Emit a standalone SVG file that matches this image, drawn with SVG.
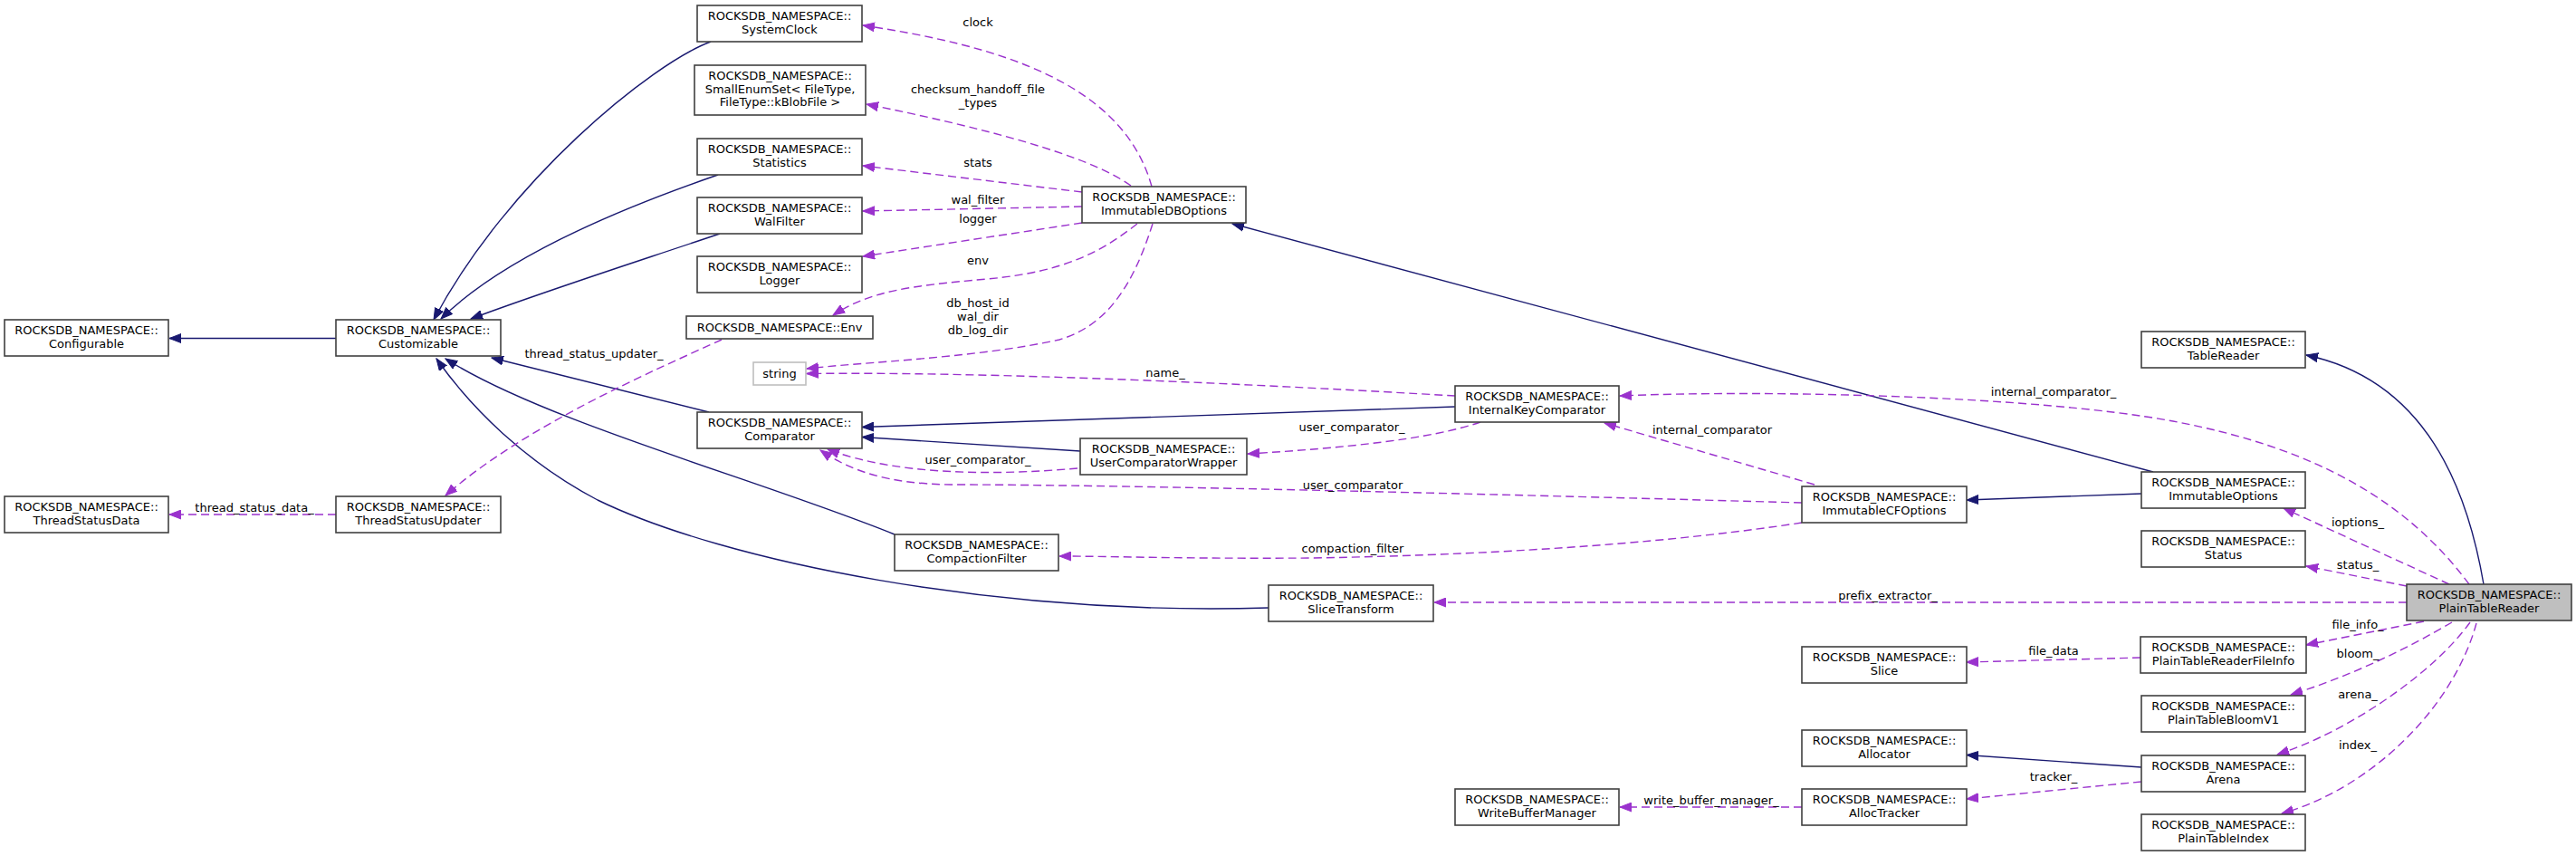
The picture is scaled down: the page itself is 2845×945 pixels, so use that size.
<svg xmlns="http://www.w3.org/2000/svg" width="2845" height="945" viewBox="0 0 2845 945">
<style>
.n rect{fill:#ffffff;stroke:#404040;stroke-width:1.6}
.n text,.lbl text{font-family:"DejaVu Sans","Liberation Sans",sans-serif;font-size:13px;fill:#000;text-anchor:middle}
.inh{fill:none;stroke:#191970;stroke-width:1.4}
.use{fill:none;stroke:#9a32cd;stroke-width:1.4;stroke-dasharray:9,5}
</style>
<defs>
<marker id="ai" markerUnits="userSpaceOnUse" markerWidth="14" markerHeight="11" refX="13" refY="5.5" orient="auto"><path d="M0,0.5 L13,5.5 L0,10.5 z" fill="#191970" stroke="#191970" stroke-width="1"/></marker>
<marker id="au" markerUnits="userSpaceOnUse" markerWidth="14" markerHeight="11" refX="13" refY="5.5" orient="auto"><path d="M0,0.5 L13,5.5 L0,10.5 z" fill="#9a32cd" stroke="#9a32cd" stroke-width="1" stroke-dasharray="none"/></marker>
</defs>
<rect width="2845" height="945" fill="#ffffff"/>
<g id="connectors">
<path class="inh" marker-end="url(#ai)" d="M371,373.5 L187,373.5"/>
<path class="inh" marker-end="url(#ai)" d="M785,46 C720,70 560,200 479,353"/>
<path class="inh" marker-end="url(#ai)" d="M793,193 C700,225 560,280 487,352"/>
<path class="inh" marker-end="url(#ai)" d="M795,258 C700,290 600,322 520,352"/>
<path class="inh" marker-end="url(#ai)" d="M783,455 L543,395"/>
<path class="inh" marker-end="url(#ai)" d="M988,590 C840,530 600,465 492,396"/>
<path class="inh" marker-end="url(#ai)" d="M1401,671 C1100,680 800,620 660,552 C580,510 520,450 482,396"/>
<path class="inh" marker-end="url(#ai)" d="M1607,449 L952,471.5"/>
<path class="inh" marker-end="url(#ai)" d="M1193,498 L952,482.5"/>
<path class="inh" marker-end="url(#ai)" d="M2378,521 L1361,247"/>
<path class="inh" marker-end="url(#ai)" d="M2365,545 L2172,552"/>
<path class="inh" marker-end="url(#ai)" d="M2743,645 C2725,540 2680,420 2547,392"/>
<path class="inh" marker-end="url(#ai)" d="M2365,847 L2172,833.5"/>
<path class="use" marker-end="url(#au)" d="M1272,206 C1240,90 1100,50 953,28"/>
<path class="use" marker-end="url(#au)" d="M1249,205 C1200,170 1080,140 957,115"/>
<path class="use" marker-end="url(#au)" d="M1195,212 L953,183"/>
<path class="use" marker-end="url(#au)" d="M1195,228 L953,233"/>
<path class="use" marker-end="url(#au)" d="M1195,246 L953,283"/>
<path class="use" marker-end="url(#au)" d="M1256,247 C1220,275 1180,300 1090,308 C1000,316 960,322 920,348"/>
<path class="use" marker-end="url(#au)" d="M1273,247 C1250,320 1220,360 1170,375 C1080,395 950,400 891,407"/>
<path class="use" marker-end="url(#au)" d="M1607,437 C1400,425 1100,410 891,412.5"/>
<path class="use" marker-end="url(#au)" d="M797,375 C720,410 580,470 492,547"/>
<path class="use" marker-end="url(#au)" d="M371,568 L187,568"/>
<path class="use" marker-end="url(#au)" d="M1190,517 C1100,525 990,525 914,496"/>
<path class="use" marker-end="url(#au)" d="M1635,466 C1580,485 1480,495 1378,501"/>
<path class="use" marker-end="url(#au)" d="M2004,535 L1772,467"/>
<path class="use" marker-end="url(#au)" d="M1990,555 C1700,547 1250,535 1050,535 C980,534 940,520 906,497"/>
<path class="use" marker-end="url(#au)" d="M1990,577 C1860,597 1680,612 1450,616 C1300,617 1230,614 1170,614"/>
<path class="use" marker-end="url(#au)" d="M2658,665 L1584,665"/>
<path class="use" marker-end="url(#au)" d="M2727,645 C2660,555 2560,495 2400,465 C2250,437 1950,430 1789,437"/>
<path class="use" marker-end="url(#au)" d="M2705,645 L2522,561"/>
<path class="use" marker-end="url(#au)" d="M2658,647 L2547,625"/>
<path class="use" marker-end="url(#au)" d="M2677,686 L2547,712"/>
<path class="use" marker-end="url(#au)" d="M2708,687 C2660,715 2600,745 2530,767"/>
<path class="use" marker-end="url(#au)" d="M2728,687 C2690,740 2600,805 2515,833"/>
<path class="use" marker-end="url(#au)" d="M2735,688 C2710,780 2620,870 2520,898"/>
<path class="use" marker-end="url(#au)" d="M2364,726 L2172,731"/>
<path class="use" marker-end="url(#au)" d="M2365,863 L2172,882"/>
<path class="use" marker-end="url(#au)" d="M1990,891 L1789,891"/>
<g class="lbl">
<text x="1080" y="29">clock</text>
<text x="1080" y="103">checksum_handoff_file</text>
<text x="1080" y="118">_types</text>
<text x="1080" y="184">stats</text>
<text x="1080" y="225">wal_filter</text>
<text x="1080" y="246">logger</text>
<text x="1080" y="292">env</text>
<text x="1080" y="339">db_host_id</text>
<text x="1080" y="354">wal_dir</text>
<text x="1080" y="369">db_log_dir</text>
<text x="1287" y="416">name_</text>
<text x="656" y="395">thread_status_updater_</text>
<text x="281" y="565">thread_status_data_</text>
<text x="1080" y="512">user_comparator_</text>
<text x="1493" y="476">user_comparator_</text>
<text x="1891" y="479">internal_comparator</text>
<text x="1494" y="540">user_comparator</text>
<text x="1494" y="610">compaction_filter</text>
<text x="2085" y="662">prefix_extractor_</text>
<text x="2268" y="437">internal_comparator_</text>
<text x="2604" y="581">ioptions_</text>
<text x="2604" y="628">status_</text>
<text x="2604" y="694">file_info_</text>
<text x="2604" y="726">bloom_</text>
<text x="2604" y="771">arena_</text>
<text x="2604" y="827">index_</text>
<text x="2268" y="723">file_data</text>
<text x="2268" y="862">tracker_</text>
<text x="1890" y="888">write_buffer_manager_</text>
</g>
</g>
<g id="Configurable" class="n"><rect x="5" y="353" width="181" height="40"/><text x="95.5" y="369">ROCKSDB_NAMESPACE::</text><text x="95.5" y="384">Configurable</text></g>
<g id="Customizable" class="n"><rect x="371" y="353" width="182" height="40"/><text x="462" y="369">ROCKSDB_NAMESPACE::</text><text x="462" y="384">Customizable</text></g>
<g id="ThreadStatusData" class="n"><rect x="5" y="548" width="181" height="40"/><text x="95.5" y="564">ROCKSDB_NAMESPACE::</text><text x="95.5" y="579">ThreadStatusData</text></g>
<g id="ThreadStatusUpdater" class="n"><rect x="371" y="548" width="182" height="40"/><text x="462" y="564">ROCKSDB_NAMESPACE::</text><text x="462" y="579">ThreadStatusUpdater</text></g>
<g id="SystemClock" class="n"><rect x="770" y="6" width="182" height="40"/><text x="861" y="22">ROCKSDB_NAMESPACE::</text><text x="861" y="37">SystemClock</text></g>
<g id="SmallEnumSet" class="n"><rect x="767" y="72" width="189" height="55"/><text x="861.5" y="88">ROCKSDB_NAMESPACE::</text><text x="861.5" y="103">SmallEnumSet&lt; FileType,</text><text x="861.5" y="117">FileType::kBlobFile &gt;</text></g>
<g id="Statistics" class="n"><rect x="770" y="153" width="182" height="40"/><text x="861" y="169">ROCKSDB_NAMESPACE::</text><text x="861" y="184">Statistics</text></g>
<g id="WalFilter" class="n"><rect x="770" y="218" width="182" height="40"/><text x="861" y="234">ROCKSDB_NAMESPACE::</text><text x="861" y="249">WalFilter</text></g>
<g id="Logger" class="n"><rect x="770" y="283" width="182" height="40"/><text x="861" y="299">ROCKSDB_NAMESPACE::</text><text x="861" y="314">Logger</text></g>
<g id="Env" class="n"><rect x="758" y="349" width="206" height="25"/><text x="861" y="366">ROCKSDB_NAMESPACE::Env</text></g>
<g id="string" class="n"><rect x="832" y="400" width="58" height="25" style="stroke:#bfbfbf"/><text x="861" y="417">string</text></g>
<g id="Comparator" class="n"><rect x="770" y="455" width="182" height="40"/><text x="861" y="471">ROCKSDB_NAMESPACE::</text><text x="861" y="486">Comparator</text></g>
<g id="CompactionFilter" class="n"><rect x="988" y="590" width="181" height="40"/><text x="1078.5" y="606">ROCKSDB_NAMESPACE::</text><text x="1078.5" y="621">CompactionFilter</text></g>
<g id="ImmutableDBOptions" class="n"><rect x="1195" y="206" width="181" height="40"/><text x="1285.5" y="222">ROCKSDB_NAMESPACE::</text><text x="1285.5" y="237">ImmutableDBOptions</text></g>
<g id="UserComparatorWrapper" class="n"><rect x="1193" y="484" width="184" height="40"/><text x="1285" y="500">ROCKSDB_NAMESPACE::</text><text x="1285" y="515">UserComparatorWrapper</text></g>
<g id="SliceTransform" class="n"><rect x="1401" y="646" width="182" height="40"/><text x="1492" y="662">ROCKSDB_NAMESPACE::</text><text x="1492" y="677">SliceTransform</text></g>
<g id="InternalKeyComparator" class="n"><rect x="1607" y="426" width="181" height="40"/><text x="1697.5" y="442">ROCKSDB_NAMESPACE::</text><text x="1697.5" y="457">InternalKeyComparator</text></g>
<g id="WriteBufferManager" class="n"><rect x="1607" y="871" width="181" height="40"/><text x="1697.5" y="887">ROCKSDB_NAMESPACE::</text><text x="1697.5" y="902">WriteBufferManager</text></g>
<g id="ImmutableCFOptions" class="n"><rect x="1990" y="537" width="182" height="40"/><text x="2081" y="553">ROCKSDB_NAMESPACE::</text><text x="2081" y="568">ImmutableCFOptions</text></g>
<g id="Slice" class="n"><rect x="1990" y="714" width="182" height="40"/><text x="2081" y="730">ROCKSDB_NAMESPACE::</text><text x="2081" y="745">Slice</text></g>
<g id="Allocator" class="n"><rect x="1990" y="806" width="182" height="40"/><text x="2081" y="822">ROCKSDB_NAMESPACE::</text><text x="2081" y="837">Allocator</text></g>
<g id="AllocTracker" class="n"><rect x="1990" y="871" width="182" height="40"/><text x="2081" y="887">ROCKSDB_NAMESPACE::</text><text x="2081" y="902">AllocTracker</text></g>
<g id="TableReader" class="n"><rect x="2365" y="366" width="181" height="40"/><text x="2455.5" y="382">ROCKSDB_NAMESPACE::</text><text x="2455.5" y="397">TableReader</text></g>
<g id="ImmutableOptions" class="n"><rect x="2365" y="521" width="181" height="40"/><text x="2455.5" y="537">ROCKSDB_NAMESPACE::</text><text x="2455.5" y="552">ImmutableOptions</text></g>
<g id="Status" class="n"><rect x="2365" y="586" width="181" height="40"/><text x="2455.5" y="602">ROCKSDB_NAMESPACE::</text><text x="2455.5" y="617">Status</text></g>
<g id="PlainTableReaderFileInfo" class="n"><rect x="2364" y="703" width="183" height="40"/><text x="2455.5" y="719">ROCKSDB_NAMESPACE::</text><text x="2455.5" y="734">PlainTableReaderFileInfo</text></g>
<g id="PlainTableBloomV1" class="n"><rect x="2365" y="768" width="181" height="40"/><text x="2455.5" y="784">ROCKSDB_NAMESPACE::</text><text x="2455.5" y="799">PlainTableBloomV1</text></g>
<g id="Arena" class="n"><rect x="2365" y="834" width="181" height="40"/><text x="2455.5" y="850">ROCKSDB_NAMESPACE::</text><text x="2455.5" y="865">Arena</text></g>
<g id="PlainTableIndex" class="n"><rect x="2365" y="899" width="181" height="40"/><text x="2455.5" y="915">ROCKSDB_NAMESPACE::</text><text x="2455.5" y="930">PlainTableIndex</text></g>
<g id="PlainTableReader" class="n"><rect x="2658" y="645" width="182" height="40" style="fill:#bfbfbf"/><text x="2749" y="661">ROCKSDB_NAMESPACE::</text><text x="2749" y="676">PlainTableReader</text></g>
</svg>
